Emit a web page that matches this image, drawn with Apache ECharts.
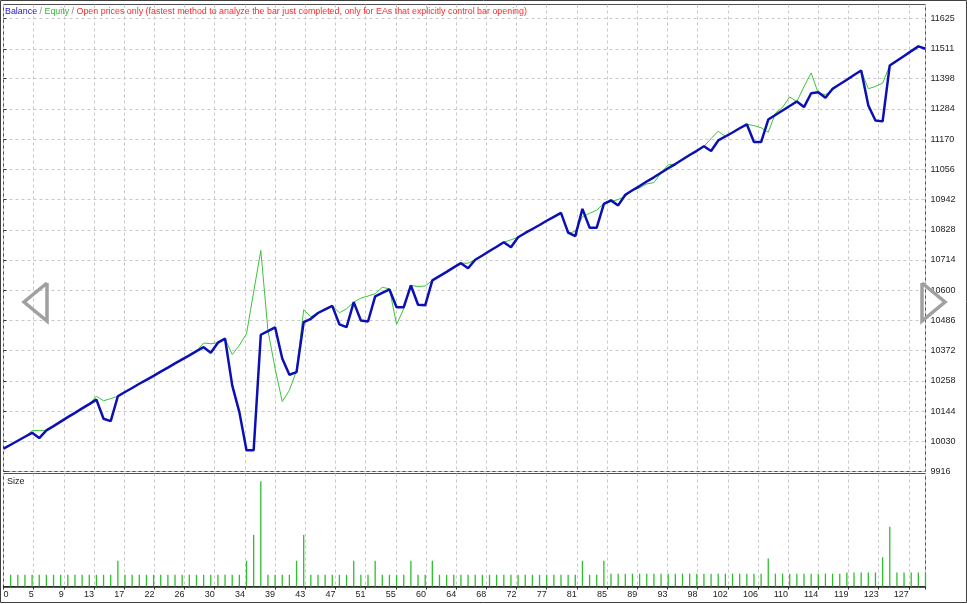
<!DOCTYPE html>
<html><head><meta charset="utf-8">
<script src="https://cdn.jsdelivr.net/npm/echarts@6/dist/echarts.min.js"></script>
<style>html,body{margin:0;padding:0;background:#fff}#c{width:967px;height:604px}</style>
</head><body><div id="c"></div>
<script>
// Balance after each trade (index 0 = start)
const balance = [10002,10017,10032,10047,10062,10042,10071,10087,10104,10121,
10137,10154,10170,10187,10115,10106,10200,10216,10231,10247,
10262,10277,10293,10308,10324,10339,10354,10370,10385,10364,
10402,10417,10241,10140,9996,9996,10432,10446,10460,10342,
10281,10291,10480,10492,10514,10528,10541,10471,10461,10555,
10486,10482,10577,10590,10603,10536,10536,10618,10545,10543,
10637,10653,10669,10686,10702,10683,10715,10731,10748,10764,
10781,10762,10800,10816,10831,10846,10862,10877,10892,10817,
10804,10907,10836,10836,10926,10939,10920,10960,10977,10993,
11010,11026,11043,11060,11076,11093,11110,11126,11143,11125,
11165,11180,11195,11211,11226,11159,11159,11244,11261,11278,
11295,11312,11291,11343,11347,11326,11360,11377,11394,11412,
11429,11297,11240,11237,11448,11466,11484,11502,11520,11511];

// Equity at each trade
const equity = [10002,10017,10032,10047,10070,10071,10071,10087,10104,10121,
10137,10154,10170,10200,10183,10191,10200,10216,10231,10247,
10262,10277,10293,10308,10324,10339,10354,10370,10401,10398,
10402,10417,10357,10392,10436,10593,10750,10448,10305,10180,
10222,10297,10526,10500,10514,10528,10541,10515,10530,10555,
10570,10578,10587,10611,10605,10471,10530,10618,10614,10616,
10637,10653,10669,10686,10702,10702,10715,10731,10748,10764,
10781,10790,10800,10816,10831,10846,10862,10877,10892,10813,
10823,10877,10890,10902,10927,10934,10942,10954,10977,10986,
11001,11006,11043,11073,11076,11093,11110,11126,11143,11172,
11200,11180,11195,11211,11226,11221,11213,11196,11268,11290,
11329,11312,11368,11420,11343,11338,11354,11377,11394,11412,
11429,11360,11369,11381,11448,11466,11484,11502,11522,11511];

// Lot size of trades 1..129
const size = [0.10,0.10,0.10,0.10,0.10,0.10,0.10,0.10,0.10,0.10,
0.10,0.10,0.10,0.10,0.10,0.22,0.10,0.10,0.10,0.10,
0.10,0.10,0.10,0.10,0.10,0.10,0.10,0.10,0.10,0.10,
0.10,0.10,0.10,0.22,0.44,0.90,0.10,0.10,0.10,0.10,
0.22,0.44,0.10,0.10,0.10,0.10,0.10,0.10,0.22,0.10,
0.10,0.22,0.10,0.10,0.10,0.10,0.22,0.10,0.10,0.22,
0.10,0.10,0.10,0.10,0.10,0.10,0.10,0.10,0.10,0.10,
0.10,0.10,0.10,0.10,0.10,0.10,0.10,0.10,0.10,0.10,
0.22,0.10,0.10,0.22,0.11,0.11,0.11,0.11,0.11,0.11,
0.11,0.11,0.11,0.11,0.11,0.11,0.11,0.11,0.11,0.11,
0.11,0.11,0.11,0.11,0.11,0.11,0.24,0.11,0.11,0.11,
0.11,0.11,0.11,0.11,0.11,0.11,0.11,0.12,0.12,0.12,
0.12,0.12,0.25,0.51,0.12,0.12,0.12,0.12,0.12];

const xTickLabels = [0,5,9,13,17,22,26,30,34,39,43,47,51,55,60,64,68,72,77,81,85,89,93,98,102,106,110,114,119,123,127];
const yTickLabels = [9916,10030,10144,10258,10372,10486,10600,10714,10828,10942,11056,11170,11284,11398,11511,11625];

const X_STEP = 38 / 9;
const FONT = 'Liberation Sans';
const gridDash = {color: '#c8c8c8', type: [3, 3], width: 1};

const chart = echarts.init(document.getElementById('c'), null, {renderer: 'canvas'});
const xLabelFmt = v => {
  const k = Math.round(v / X_STEP);
  if (Math.abs(k * X_STEP - v) > 1e-6 || k >= xTickLabels.length) return '';
  return String(xTickLabels[k]);
};

chart.setOption({
  animation: false,
  backgroundColor: '#ffffff',
  title: [{
    left: 5, top: 7, padding: 0,
    text: '{b|Balance}{s| / }{e|Equity}{s| / }{r|Open prices only (fastest method to analyze the bar just completed, only for EAs that explicitly control bar opening)}',
    textStyle: {
      fontFamily: FONT, fontSize: 8.9, fontWeight: 'normal',
      rich: {
        b: {color: '#2020c8', fontFamily: FONT, fontSize: 8.9},
        s: {color: '#808080', fontFamily: FONT, fontSize: 8.9},
        e: {color: '#30b830', fontFamily: FONT, fontSize: 8.9},
        r: {color: '#ff2a2a', fontFamily: FONT, fontSize: 8.9}
      }
    }
  }, {
    left: 7, top: 477, padding: 0, text: 'Size',
    textStyle: {fontFamily: FONT, fontSize: 9, fontWeight: 'normal', color: '#222'}
  }],
  grid: [
    {left: 3.5, right: 41.5, top: 4.5, height: 467, show: true, borderColor: '#505050', borderWidth: 1},
    {left: 3.5, right: 41.5, top: 473.5, height: 113, show: true, borderColor: '#505050', borderWidth: 1}
  ],
  xAxis: [{
    type: 'value', gridIndex: 0, min: 0, max: 129, interval: X_STEP,
    axisLine: {show: false}, axisTick: {show: false}, axisLabel: {show: false},
    splitLine: {show: true, lineStyle: gridDash}
  }, {
    type: 'value', gridIndex: 1, min: 0, max: 129, interval: X_STEP,
    axisLine: {show: true, onZero: false, lineStyle: {color: '#202020', width: 1.5}},
    axisTick: {show: true, length: 3, lineStyle: {color: '#303030'}},
    axisLabel: {show: true, formatter: xLabelFmt, fontFamily: FONT, fontSize: 9, color: '#222',
      align: 'right', alignMinLabel: 'left', margin: 4, showMaxLabel: true},
    splitLine: {show: true, lineStyle: gridDash}
  }],
  yAxis: [{
    type: 'value', gridIndex: 0, position: 'right', min: 9916, max: 11678,
    axisLine: {show: false},
    axisTick: {show: true, length: 3, customValues: yTickLabels, lineStyle: {color: '#303030'}},
    axisLabel: {show: true, customValues: yTickLabels, formatter: v => String(Math.round(v)),
      fontFamily: FONT, fontSize: 9, color: '#222', margin: 5},
    splitLine: {show: true, lineStyle: gridDash}
  }, {
    type: 'value', gridIndex: 1, min: 0, max: 0.966,
    axisLine: {show: false}, axisTick: {show: false}, axisLabel: {show: false}, splitLine: {show: false}
  }],
  series: [{
    name: 'Equity', type: 'line', xAxisIndex: 0, yAxisIndex: 0, symbol: 'none', z: 2,
    lineStyle: {color: '#3cc43c', width: 1},
    data: equity.map((v, i) => [i, v])
  }, {
    name: 'Balance', type: 'line', xAxisIndex: 0, yAxisIndex: 0, symbol: 'none', z: 3,
    lineStyle: {color: '#0c10b4', width: 2.5},
    data: balance.map((v, i) => [i, v])
  }, {
    name: 'Size', type: 'bar', xAxisIndex: 1, yAxisIndex: 1, barWidth: 1.3,
    itemStyle: {color: '#2fbe2f'},
    data: size.map((v, i) => [i + 1, v])
  }],
  graphic: [
    {type: 'rect', shape: {x: 0.5, y: 0.5, width: 966, height: 602}, style: {fill: 'none', stroke: '#404040', lineWidth: 1}, silent: true},
    {type: 'polyline', shape: {points: [[47, 283], [24, 302], [47, 321], [47, 283]]}, style: {fill: 'none', stroke: '#a0a0a0', lineWidth: 3.5}, silent: true, z: 100},
    {type: 'polyline', shape: {points: [[922, 283], [945, 302], [922, 321], [922, 283]]}, style: {fill: 'none', stroke: '#a0a0a0', lineWidth: 3.5}, silent: true, z: 100}
  ]
});
</script>
</body></html>
